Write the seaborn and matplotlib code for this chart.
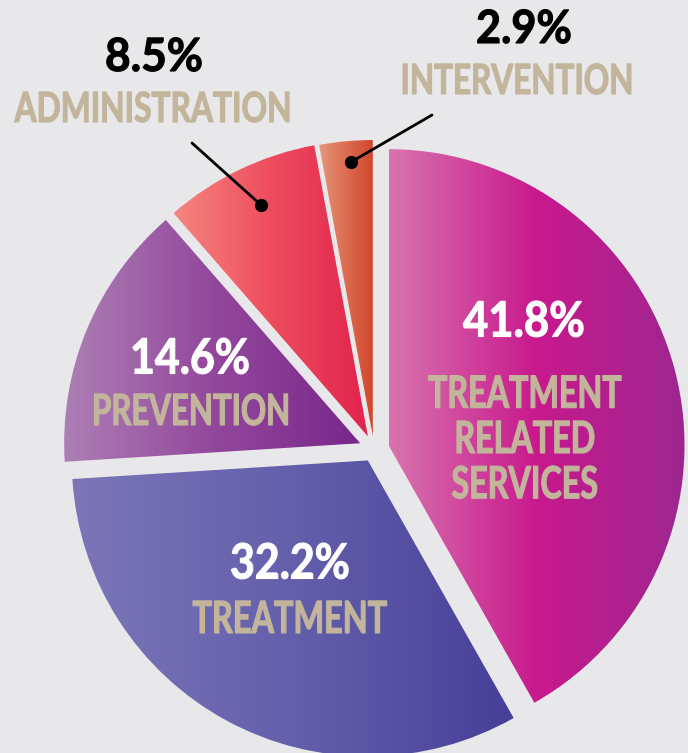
import numpy as np
import matplotlib
matplotlib.use("Agg")
import matplotlib.pyplot as plt
import seaborn as sns
from matplotlib.colors import LinearSegmentedColormap
from matplotlib.patheffects import AbstractPathEffect
from matplotlib.transforms import Affine2D

# data
categories = ["TREATMENT\nRELATED\nSERVICES", "TREATMENT", "PREVENTION",
              "ADMINISTRATION", "INTERVENTION"]
shares = [41.8, 32.2, 14.6, 8.5, 2.9]

# gradient colours (left -> right) per slice
grad_colors = [
    ["#d874ae", "#c8198d", "#9d2690"],
    ["#7c76b8", "#645fab", "#473f98"],
    ["#ad7fb5", "#93489c", "#78278b"],
    ["#f6857e", "#ee4c5e", "#e1234d"],
    ["#e5967a", "#dc6c50", "#d0472d"],
]
pct_colors = ["white", "white", "white", "black", "black"]
explode = [15, 13, 15, 14, 13]

W, H = 688, 753
BG = "#e8e8ea"
TAN = "#c2b59b"

# label layout in pixels (x, y from top), sizes, and widths of the condensed type
pct_pos = [(524, 322), (290, 564), (190, 359), (154, 58), (524, 30)]
pct_size = [35, 35, 35, 33, 33]
pct_width = [122, 120, 120, 98, 96]
name_pos = [(525, 440), (290, 620), (191, 412), (153, 110), (517, 82)]
name_size = [32, 32, 31, 30, 30]
name_width = [194, 195, 198, 277, 233]
leaders = [None, None, None, ((192, 143), (261, 205)), ((432, 115), (351, 162))]


class Squeeze(AbstractPathEffect):
    """narrow the glyphs horizontally around the text centre and thicken them,
    for a bold condensed look"""

    def __init__(self, sx, cx, stroke=0.8):
        super().__init__()
        self._t = Affine2D().translate(-cx, 0).scale(sx, 1).translate(cx, 0)
        self._stroke = stroke

    def draw_path(self, renderer, gc, tpath, affine, rgbFace=None):
        gc0 = renderer.new_gc()
        gc0.copy_properties(gc)
        gc0.set_linewidth(self._stroke)
        gc0.set_foreground(rgbFace)
        gc0.set_joinstyle("round")
        renderer.draw_path(gc0, tpath, affine + self._t, rgbFace)
        gc0.restore()


sns.set_theme(style="white")
plt.rcParams["font.family"] = ["Lato", "DejaVu Sans"]

fig = plt.figure(figsize=(W / 100, H / 100), dpi=100, facecolor=BG)
ax = fig.add_axes([0, 0, 1, 1])
ax.set_facecolor(BG)

wedges, _ = ax.pie(shares, startangle=90, counterclock=False, radius=296,
                   center=(374, H - 449), explode=explode,
                   wedgeprops=dict(linewidth=0))

# horizontal gradient fill clipped to each wedge
for w, cols in zip(wedges, grad_colors):
    ext = w.get_path().get_extents()
    cmap = LinearSegmentedColormap.from_list("g", cols)
    im = ax.imshow(np.linspace(0, 1, 256)[None, :], cmap=cmap,
                   extent=[ext.x0, ext.x1, ext.y0, ext.y1], origin="lower",
                   aspect="auto", interpolation="bicubic", zorder=2)
    im.set_clip_path(w)
    w.set_facecolor("none")

texts = []
for i, v in enumerate(shares):
    px, py = pct_pos[i]
    t = ax.text(px, H - py, f"{v:.1f}%", color=pct_colors[i], fontsize=pct_size[i],
                fontweight="bold", ha="center", va="center", zorder=4)
    texts.append((t, pct_width[i]))
    nx, ny = name_pos[i]
    t = ax.text(nx, H - ny, categories[i], color=TAN, fontsize=name_size[i],
                fontweight="bold", ha="center", va="center", linespacing=1.16,
                zorder=4)
    texts.append((t, name_width[i]))
    if leaders[i] is not None:
        (x0, y0), (x1, y1) = leaders[i]
        ax.plot([x0, x1], [H - y0, H - y1], color="black", lw=2, zorder=5)
        ax.plot([x1], [H - y1], "o", color="black", ms=8.5, zorder=5)

ax.set_xlim(0, W)
ax.set_ylim(0, H)
ax.set_aspect("equal")
ax.axis("off")

renderer = fig.canvas.get_renderer()
for t, target in texts:
    bb = t.get_window_extent(renderer)
    t.set_path_effects([Squeeze(target / bb.width, bb.x0 + bb.width / 2)])

fig.savefig("out.png", dpi=100, facecolor=BG)
